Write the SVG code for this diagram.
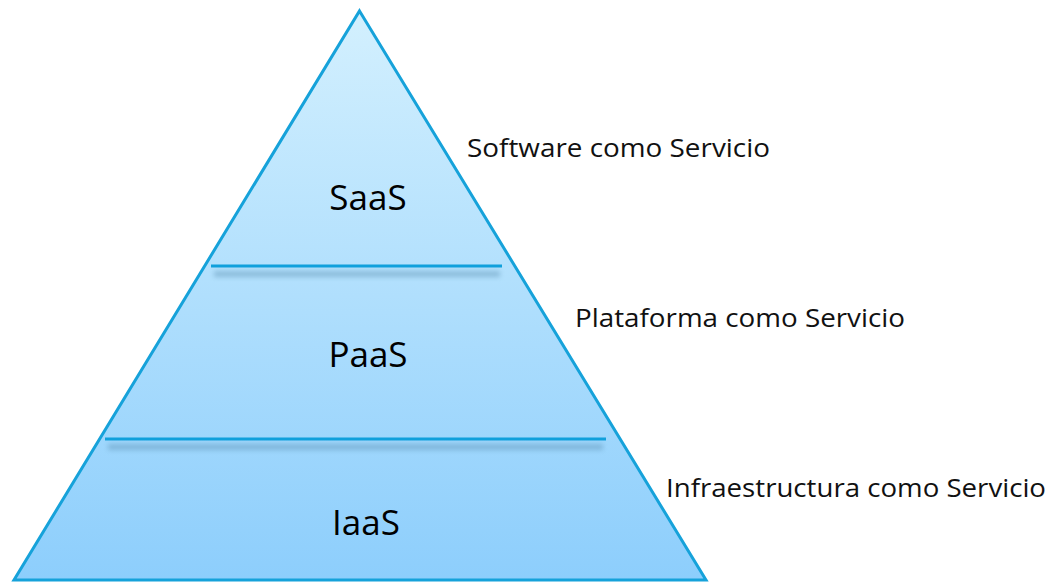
<svg xmlns="http://www.w3.org/2000/svg" width="1051" height="582" viewBox="0 0 1051 582">
  <style>
    .edge { fill: url(#fillGrad); stroke: #16a2da; stroke-width: 3; stroke-linejoin: miter; }
    .tier { fill: #000; font-family: "Open Sans", "Noto Sans", sans-serif; font-size: 35px; text-anchor: middle; }
    .desc { fill: #111; font-family: "Open Sans", "Noto Sans", sans-serif; font-size: 26px; }
    .divider { stroke: #10a0dc; stroke-width: 3; }
    .shade { fill: #5a8fb0; opacity: 0.45; }
  </style>
  <defs>
    <linearGradient id="fillGrad" x1="0" y1="0" x2="0" y2="1">
      <stop offset="0" stop-color="#d3f0fe"/>
      <stop offset="1" stop-color="#8dcefc"/>
    </linearGradient>
    <filter id="soft" x="-10%" y="-150%" width="120%" height="400%">
      <feGaussianBlur stdDeviation="2.5"/>
    </filter>
  </defs>

  <!-- pyramid body -->
  <g id="pyramid">
    <polygon class="edge" points="359.5,11 706,580 14,580"/>
  </g>

  <!-- layer dividers with soft drop shading -->
  <g id="dividers">
    <rect class="shade" x="214" y="271" width="286" height="6" filter="url(#soft)"/>
    <line class="divider" x1="211" y1="266" x2="502" y2="266"/>
    <rect class="shade" x="108" y="444" width="495" height="6" filter="url(#soft)"/>
    <line class="divider" x1="105" y1="439" x2="606" y2="439"/>
  </g>

  <g id="saas">
    <text class="tier" x="368" y="210">SaaS</text>
    <text class="desc" x="467" y="157" textLength="303" lengthAdjust="spacingAndGlyphs">Software como Servicio</text>
  </g>
  <g id="paas">
    <text class="tier" x="368" y="367">PaaS</text>
    <text class="desc" x="575" y="327" textLength="330" lengthAdjust="spacingAndGlyphs">Plataforma como Servicio</text>
  </g>
  <g id="iaas">
    <text class="tier" x="366" y="535">IaaS</text>
    <text class="desc" x="666" y="497" textLength="380" lengthAdjust="spacingAndGlyphs">Infraestructura como Servicio</text>
  </g>
</svg>
